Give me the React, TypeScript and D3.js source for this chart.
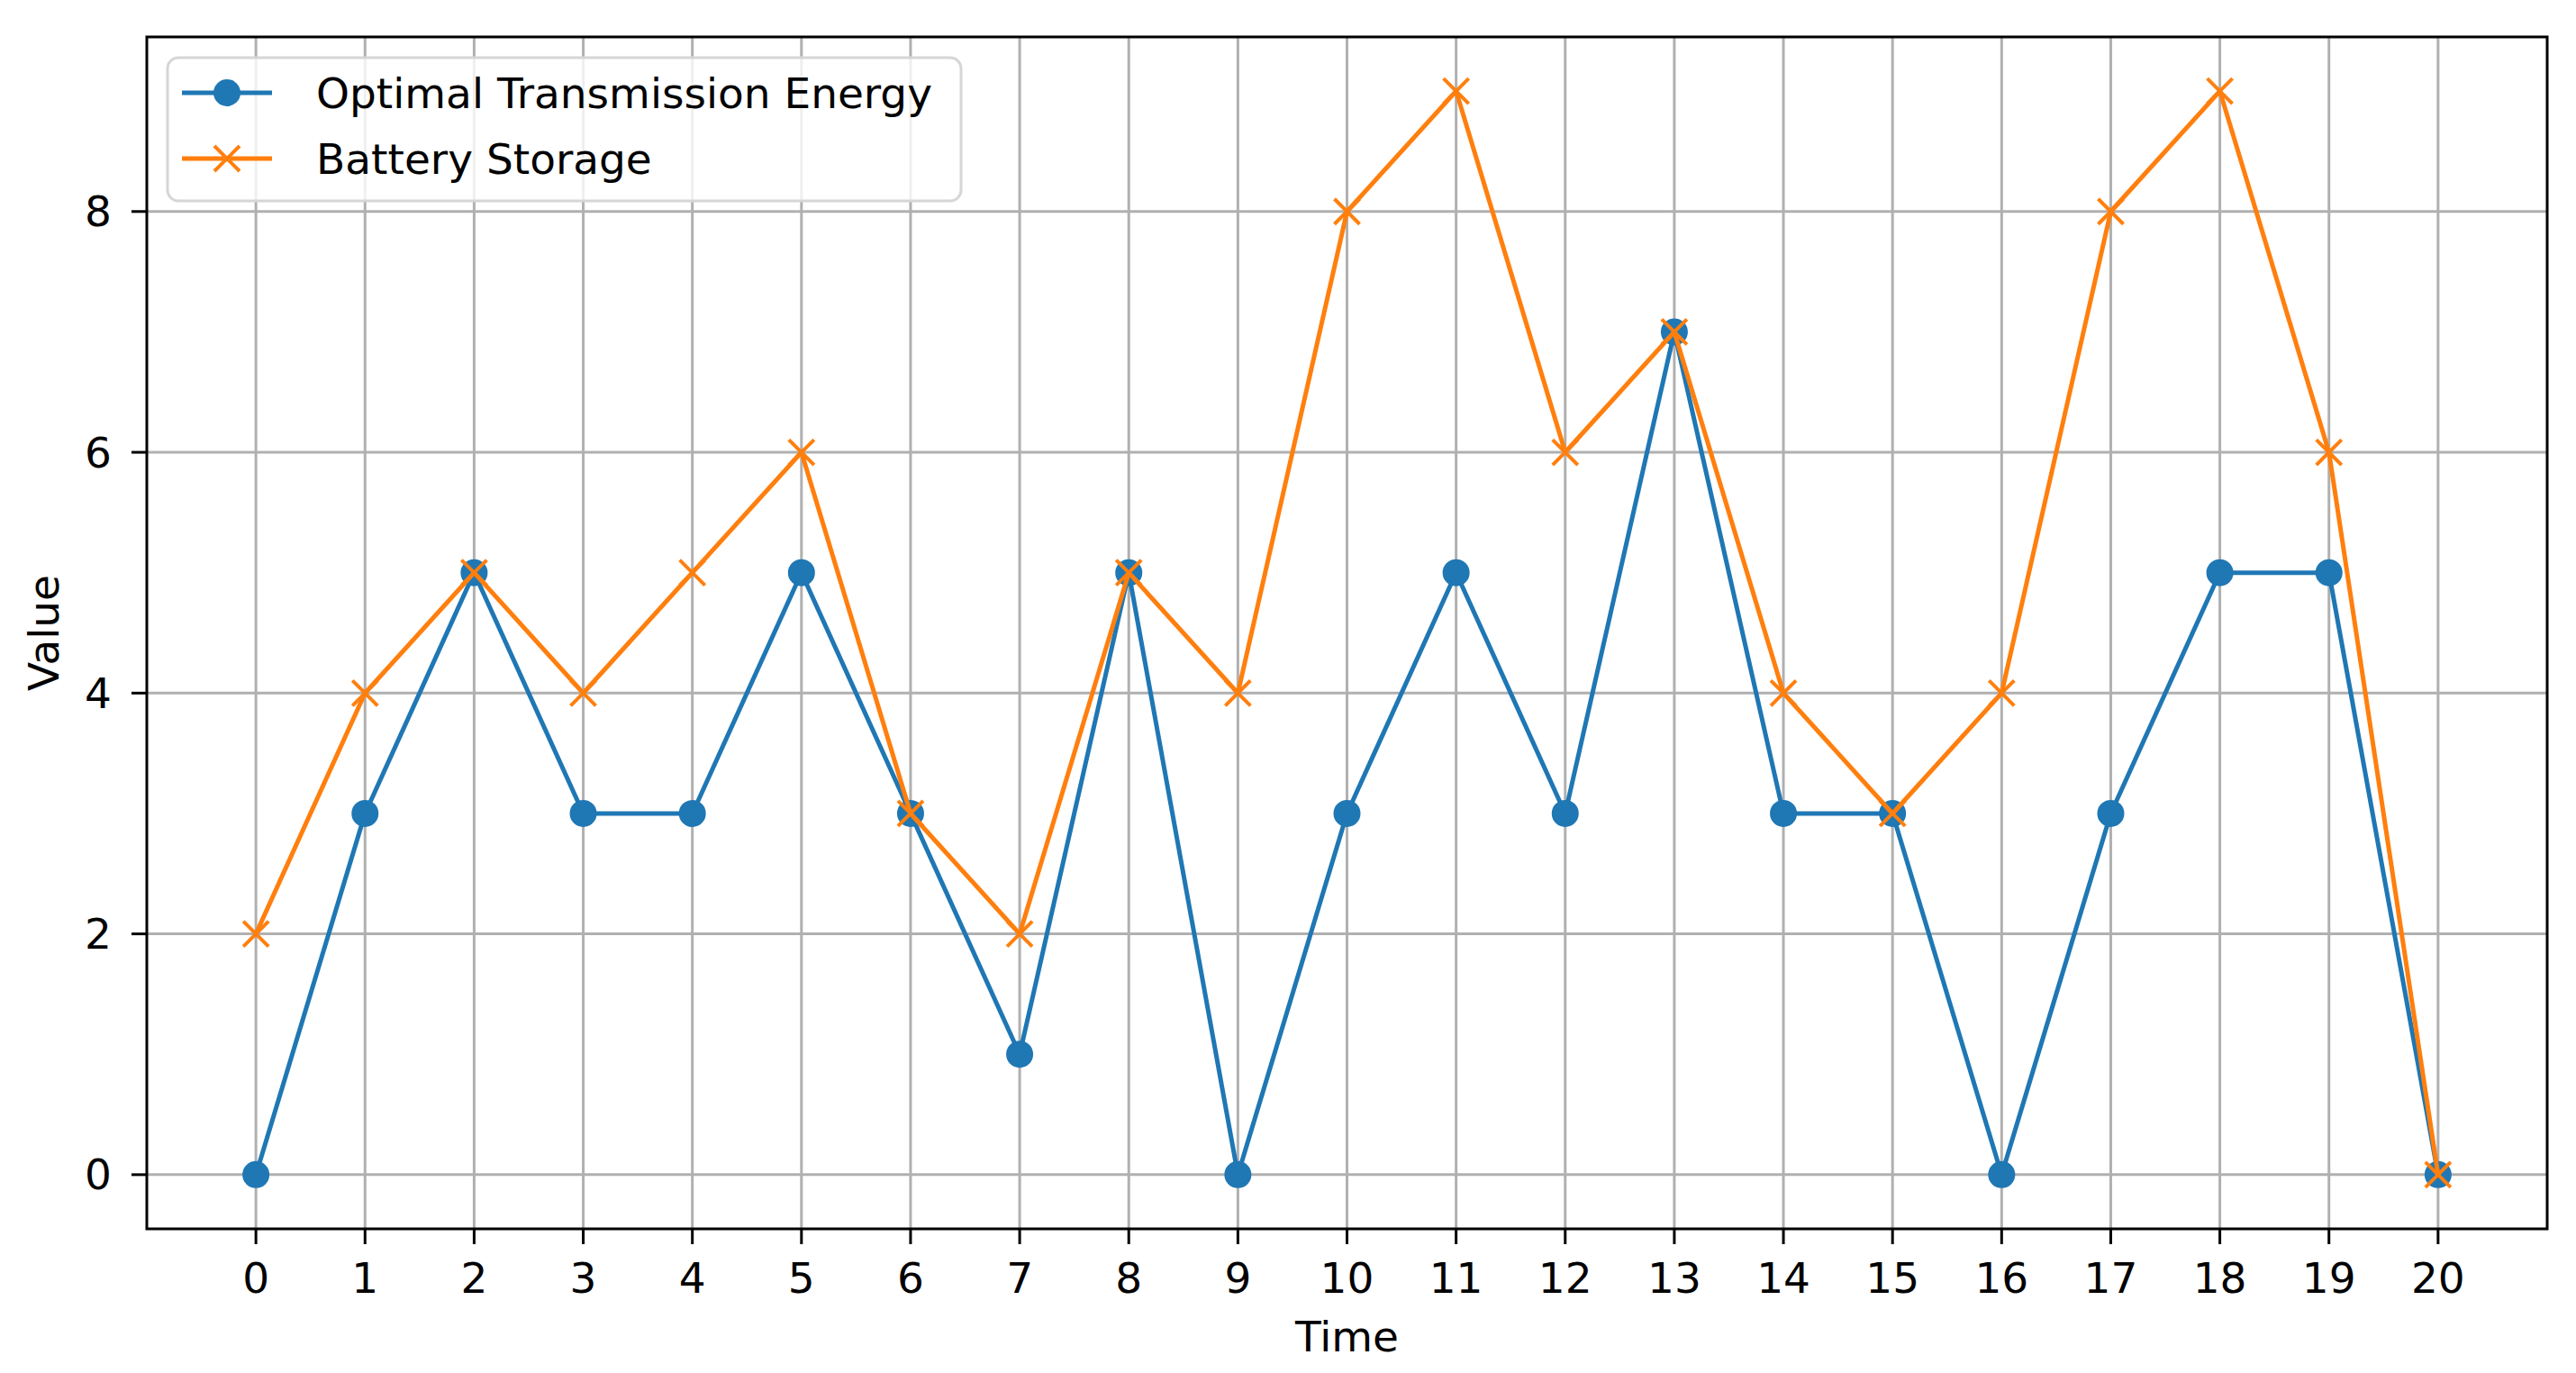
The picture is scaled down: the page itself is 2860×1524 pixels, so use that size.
import React, { useEffect } from "react";
import * as d3 from "d3";

const WIDTH = 2860;
const HEIGHT = 1524;
const PLOT = { LEFT: 163, RIGHT: 2828, TOP: 41, BOTTOM: 1364 };
const FONT = "DejaVu Sans, sans-serif";
const FONT_SIZE = 47;

const BLUE = "#1f77b4";
const ORANGE = "#ff7f0e";
const GRID = "#b0b0b0";

const time = d3.range(0, 21);
const transmission = [0, 3, 5, 3, 3, 5, 3, 1, 5, 0, 3, 5, 3, 7, 3, 3, 0, 3, 5, 5, 0];
const battery = [2, 4, 5, 4, 5, 6, 3, 2, 5, 4, 8, 9, 6, 7, 4, 3, 4, 8, 9, 6, 0];
const yTicks = [0, 2, 4, 6, 8];

const seriesList = [
  { label: "Optimal Transmission Energy", values: transmission, color: BLUE, marker: "o" },
  { label: "Battery Storage", values: battery, color: ORANGE, marker: "x" },
];

const xScale = d3.scaleLinear().domain([-1, 21]).range([PLOT.LEFT, PLOT.RIGHT]);
const yScale = d3.scaleLinear().domain([-0.45, 9.45]).range([PLOT.BOTTOM, PLOT.TOP]);

const Marker: React.FC<{ kind: string; x: number; y: number; color: string }> = ({ kind, x, y, color }) => {
  if (kind === "o") return <circle cx={x} cy={y} r={15} fill={color} />;
  const s = 14;
  return (
    <g stroke={color} strokeWidth={4}>
      <line x1={x - s} y1={y - s} x2={x + s} y2={y + s} />
      <line x1={x - s} y1={y + s} x2={x + s} y2={y - s} />
    </g>
  );
};

export default function App() {
  useEffect(() => {
    document.body.style.margin = "0";
  }, []);

  const line = d3
    .line<number>()
    .x((_, i) => xScale(time[i]))
    .y((d) => yScale(d));

  return (
    <svg width={WIDTH} height={HEIGHT} style={{ display: "block", background: "#fff" }} fontFamily={FONT}>
      {/* grid */}
      <g stroke={GRID} strokeWidth={3}>
        {time.map((t) => (
          <line key={"gx" + t} x1={xScale(t)} x2={xScale(t)} y1={PLOT.TOP} y2={PLOT.BOTTOM} />
        ))}
        {yTicks.map((v) => (
          <line key={"gy" + v} x1={PLOT.LEFT} x2={PLOT.RIGHT} y1={yScale(v)} y2={yScale(v)} />
        ))}
      </g>

      {/* series */}
      {seriesList.map((s) => (
        <g key={s.label}>
          <path d={line(s.values) ?? ""} fill="none" stroke={s.color} strokeWidth={5} strokeLinejoin="round" />
          {s.values.map((v, i) => (
            <Marker key={i} kind={s.marker} x={xScale(time[i])} y={yScale(v)} color={s.color} />
          ))}
        </g>
      ))}

      {/* frame */}
      <rect
        x={PLOT.LEFT}
        y={PLOT.TOP}
        width={PLOT.RIGHT - PLOT.LEFT}
        height={PLOT.BOTTOM - PLOT.TOP}
        fill="none"
        stroke="#000"
        strokeWidth={3}
      />

      {/* x axis */}
      <g fontSize={FONT_SIZE} textAnchor="middle" fill="#000">
        {time.map((t) => (
          <g key={"xt" + t}>
            <line x1={xScale(t)} x2={xScale(t)} y1={PLOT.BOTTOM} y2={PLOT.BOTTOM + 17} stroke="#000" strokeWidth={3} />
            <text x={xScale(t)} y={1435}>{t}</text>
          </g>
        ))}
        <text x={(PLOT.LEFT + PLOT.RIGHT) / 2} y={1500}>Time</text>
      </g>

      {/* y axis */}
      <g fontSize={FONT_SIZE} fill="#000">
        {yTicks.map((v) => (
          <g key={"yt" + v}>
            <line x1={PLOT.LEFT - 17} x2={PLOT.LEFT} y1={yScale(v)} y2={yScale(v)} stroke="#000" strokeWidth={3} />
            <text x={124} y={yScale(v)} textAnchor="end" dominantBaseline="central">{v}</text>
          </g>
        ))}
        <text
          transform={`translate(48, ${(PLOT.TOP + PLOT.BOTTOM) / 2}) rotate(-90)`}
          textAnchor="middle"
          dominantBaseline="central"
        >
          Value
        </text>
      </g>

      {/* legend */}
      <g>
        <rect x={186} y={64} width={881} height={159} rx={12} fill="#fff" fillOpacity={0.8} stroke="#d6d6d6" strokeWidth={3} />
        {seriesList.map((s, i) => {
          const cy = 103 + i * 73;
          return (
            <g key={"lg" + i}>
              <line x1={202} x2={302} y1={cy} y2={cy} stroke={s.color} strokeWidth={5} />
              <Marker kind={s.marker} x={252} y={cy} color={s.color} />
              <text x={351} y={cy} fontSize={FONT_SIZE} dominantBaseline="central" fill="#000">
                {s.label}
              </text>
            </g>
          );
        })}
      </g>
    </svg>
  );
}
